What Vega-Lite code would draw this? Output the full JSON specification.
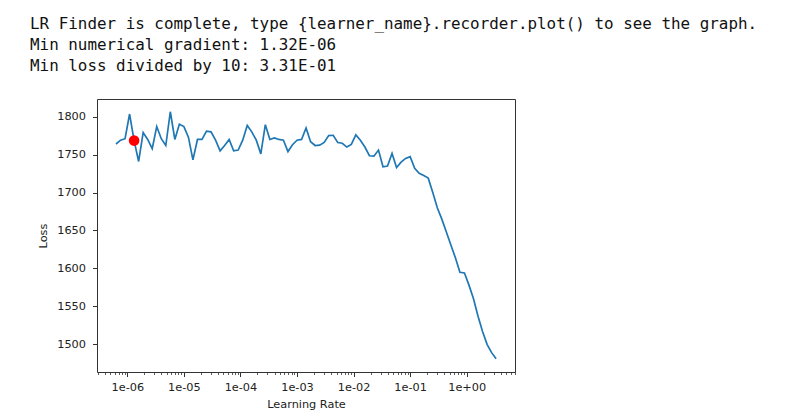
{
  "$schema": "https://vega.github.io/schema/vega-lite/v6.json",
  "width": 418,
  "height": 273,
  "autosize": {"type": "none"},
  "padding": {"left": 97, "top": 99, "right": 274, "bottom": 41},
  "background": "white",
  "title": {
    "text": [
      "LR Finder is complete, type {learner_name}.recorder.plot() to see the graph.",
      "Min numerical gradient: 1.32E-06",
      "Min loss divided by 10: 3.31E-01"
    ],
    "anchor": "start",
    "frame": "group",
    "font": "DejaVu Sans Mono",
    "fontSize": 15.9,
    "fontWeight": "normal",
    "color": "#111",
    "lineHeight": 21,
    "dx": -67,
    "offset": 25
  },
  "datasets": {
    "losses": [
      {"lr": 6.3096e-7, "loss": 1764},
      {"lr": 7.5858e-7, "loss": 1769},
      {"lr": 9.1201e-7, "loss": 1771},
      {"lr": 1.0965e-6, "loss": 1803.5},
      {"lr": 1.3183e-6, "loss": 1768.5},
      {"lr": 1.5849e-6, "loss": 1741},
      {"lr": 1.9055e-6, "loss": 1779},
      {"lr": 2.2909e-6, "loss": 1770},
      {"lr": 2.7542e-6, "loss": 1758},
      {"lr": 3.3113e-6, "loss": 1787},
      {"lr": 3.9811e-6, "loss": 1771},
      {"lr": 4.7863e-6, "loss": 1762},
      {"lr": 5.7544e-6, "loss": 1806.5},
      {"lr": 6.9183e-6, "loss": 1770},
      {"lr": 8.3176e-6, "loss": 1790},
      {"lr": 1.0e-5, "loss": 1787},
      {"lr": 1.2023e-5, "loss": 1773},
      {"lr": 1.4454e-5, "loss": 1743},
      {"lr": 1.7378e-5, "loss": 1770},
      {"lr": 2.0893e-5, "loss": 1770},
      {"lr": 2.5119e-5, "loss": 1781},
      {"lr": 3.02e-5, "loss": 1780},
      {"lr": 3.6308e-5, "loss": 1769},
      {"lr": 4.3652e-5, "loss": 1755},
      {"lr": 5.2481e-5, "loss": 1762},
      {"lr": 6.3096e-5, "loss": 1770},
      {"lr": 7.5858e-5, "loss": 1755},
      {"lr": 9.1201e-5, "loss": 1756},
      {"lr": 1.0965e-4, "loss": 1769},
      {"lr": 1.3183e-4, "loss": 1788.5},
      {"lr": 1.5849e-4, "loss": 1780},
      {"lr": 1.9055e-4, "loss": 1769},
      {"lr": 2.2909e-4, "loss": 1751},
      {"lr": 2.7542e-4, "loss": 1789.5},
      {"lr": 3.3113e-4, "loss": 1770},
      {"lr": 3.9811e-4, "loss": 1772},
      {"lr": 4.7863e-4, "loss": 1770},
      {"lr": 5.7544e-4, "loss": 1769},
      {"lr": 6.9183e-4, "loss": 1754},
      {"lr": 8.3176e-4, "loss": 1763},
      {"lr": 1.0e-3, "loss": 1769},
      {"lr": 1.2023e-3, "loss": 1770},
      {"lr": 1.4454e-3, "loss": 1785},
      {"lr": 1.7378e-3, "loss": 1767},
      {"lr": 2.0893e-3, "loss": 1762},
      {"lr": 2.5119e-3, "loss": 1762.5},
      {"lr": 3.02e-3, "loss": 1766},
      {"lr": 3.6308e-3, "loss": 1775},
      {"lr": 4.3652e-3, "loss": 1775.5},
      {"lr": 5.2481e-3, "loss": 1766},
      {"lr": 6.3096e-3, "loss": 1765},
      {"lr": 7.5858e-3, "loss": 1760},
      {"lr": 9.1201e-3, "loss": 1763.5},
      {"lr": 1.0965e-2, "loss": 1776},
      {"lr": 1.3183e-2, "loss": 1769},
      {"lr": 1.5849e-2, "loss": 1760},
      {"lr": 1.9055e-2, "loss": 1748.5},
      {"lr": 2.2909e-2, "loss": 1748},
      {"lr": 2.7542e-2, "loss": 1756},
      {"lr": 3.3113e-2, "loss": 1734},
      {"lr": 3.9811e-2, "loss": 1735},
      {"lr": 4.7863e-2, "loss": 1751.5},
      {"lr": 5.7544e-2, "loss": 1733},
      {"lr": 6.9183e-2, "loss": 1740},
      {"lr": 8.3176e-2, "loss": 1745},
      {"lr": 0.1, "loss": 1747.3},
      {"lr": 0.12023, "loss": 1732},
      {"lr": 0.14454, "loss": 1725.5},
      {"lr": 0.17378, "loss": 1722.5},
      {"lr": 0.20893, "loss": 1719},
      {"lr": 0.25119, "loss": 1700},
      {"lr": 0.302, "loss": 1680},
      {"lr": 0.36308, "loss": 1665},
      {"lr": 0.43652, "loss": 1648},
      {"lr": 0.52481, "loss": 1631},
      {"lr": 0.63096, "loss": 1614},
      {"lr": 0.75858, "loss": 1595},
      {"lr": 0.91201, "loss": 1594},
      {"lr": 1.0965, "loss": 1578},
      {"lr": 1.3183, "loss": 1560},
      {"lr": 1.5849, "loss": 1537},
      {"lr": 1.9055, "loss": 1517},
      {"lr": 2.2909, "loss": 1500},
      {"lr": 2.7542, "loss": 1489},
      {"lr": 3.3113, "loss": 1481}
    ],
    "best": [
      {"lr": 1.3183e-6, "loss": 1768.5}
    ]
  },
  "layer": [
    {
      "data": {"name": "losses"},
      "mark": {"type": "line", "color": "#1f77b4", "strokeWidth": 1.7},
      "encoding": {
        "x": {
          "field": "lr",
          "type": "quantitative",
          "scale": {"type": "log", "domain": [2.91e-7, 7.14], "nice": false},
          "axis": {
            "title": "Learning Rate",
            "values": [3e-7, 4e-7, 5e-7, 6e-7, 7e-7, 8e-7, 9e-7,
                       1e-6, 2e-6, 3e-6, 4e-6, 5e-6, 6e-6, 7e-6, 8e-6, 9e-6,
                       1e-5, 2e-5, 3e-5, 4e-5, 5e-5, 6e-5, 7e-5, 8e-5, 9e-5,
                       1e-4, 2e-4, 3e-4, 4e-4, 5e-4, 6e-4, 7e-4, 8e-4, 9e-4,
                       1e-3, 2e-3, 3e-3, 4e-3, 5e-3, 6e-3, 7e-3, 8e-3, 9e-3,
                       1e-2, 2e-2, 3e-2, 4e-2, 5e-2, 6e-2, 7e-2, 8e-2, 9e-2,
                       0.1, 0.2, 0.3, 0.4, 0.5, 0.6, 0.7, 0.8, 0.9,
                       1, 2, 3, 4, 5, 6, 7],
            "labelExpr": "abs(log(datum.value)/LN10 - round(log(datum.value)/LN10)) < 0.001 ? '1e' + (round(log(datum.value)/LN10) < 0 ? '-' : '+') + (abs(round(log(datum.value)/LN10)) < 10 ? '0' : '') + abs(round(log(datum.value)/LN10)) : ''",
            "tickSize": {"condition": {"test": "abs(log(datum.value)/LN10 - round(log(datum.value)/LN10)) < 0.001", "value": 4.5}, "value": 2.5},
            "tickWidth": {"condition": {"test": "abs(log(datum.value)/LN10 - round(log(datum.value)/LN10)) < 0.001", "value": 1}, "value": 0.8},
            "labelOverlap": false,
            "labelFlush": false,
            "labelPadding": 5,
            "titlePadding": 6
          }
        },
        "y": {
          "field": "loss",
          "type": "quantitative",
          "scale": {"domain": [1463.5, 1823.3], "nice": false, "zero": false},
          "axis": {
            "title": "Loss",
            "format": "d",
            "values": [1500, 1550, 1600, 1650, 1700, 1750, 1800],
            "tickSize": 4.5,
            "tickWidth": 1,
            "labelPadding": 7,
            "titlePadding": 8
          }
        }
      }
    },
    {
      "data": {"name": "best"},
      "mark": {"type": "circle", "color": "red", "size": 113, "opacity": 1},
      "encoding": {
        "x": {"field": "lr", "type": "quantitative"},
        "y": {"field": "loss", "type": "quantitative"}
      }
    }
  ],
  "config": {
    "view": {"stroke": "#333", "strokeWidth": 1},
    "axis": {
      "grid": false,
      "domain": false,
      "labelFont": "DejaVu Sans",
      "labelFontSize": 11.3,
      "titleFont": "DejaVu Sans",
      "titleFontSize": 11.3,
      "titleFontWeight": "normal",
      "labelColor": "#222",
      "titleColor": "#222",
      "tickColor": "#333"
    }
  }
}
